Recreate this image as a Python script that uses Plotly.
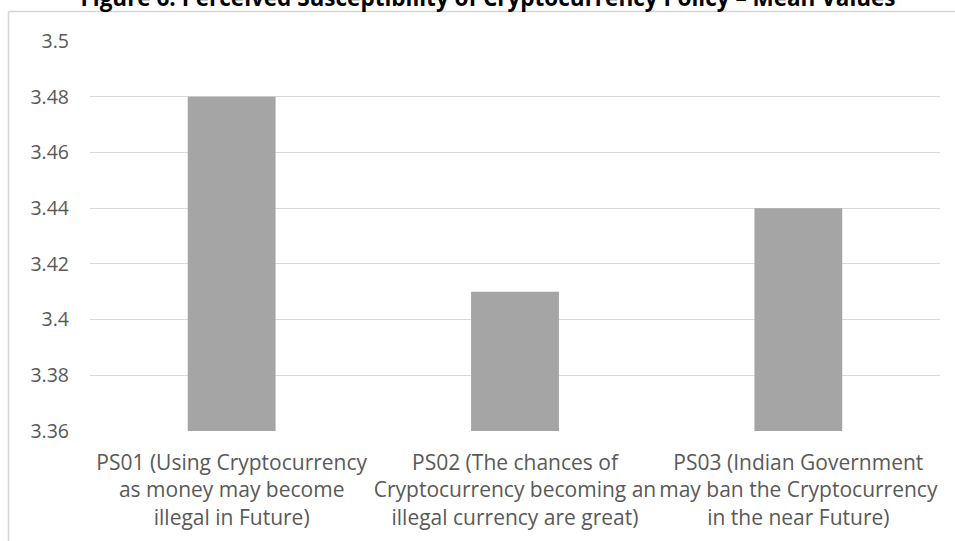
import plotly.graph_objects as go

categories = [
    "PS01 (Using Cryptocurrency<br>as money may become<br>illegal in Future)",
    "PS02 (The chances of<br>Cryptocurrency becoming an<br>illegal currency are great)",
    "PS03 (Indian Government<br>may ban the Cryptocurrency<br>in the near Future)",
]
values = [3.48, 3.41, 3.44]
tick_vals = [3.36, 3.38, 3.40, 3.42, 3.44, 3.46, 3.48, 3.50]
tick_text = ["3.36", "3.38", "3.4", "3.42", "3.44", "3.46", "3.48", "3.5"]
title_text = "Figure 6: Perceived Susceptibility of Cryptocurrency Policy \u2013 Mean Values"

W, H = 955, 541
L, R, T, B = 90, 15, 41, 110
pw, ph = W - L - R, H - T - B

fig = go.Figure(go.Bar(x=categories, y=values, marker_color="#A5A5A5",
                       marker_line_width=0, width=0.31))

bx0 = (8.5 - L) / pw
by1 = (H - B - 11.5) / ph
border = dict(color="#D5D5D5", width=1.5)

fig.update_layout(
    width=W, height=H,
    margin=dict(l=L, r=R, t=T, b=B),
    paper_bgcolor="white", plot_bgcolor="white",
    font=dict(family="Open Sans", color="#595959", size=19),
    title=dict(text="<b>" + title_text + "</b>", x=0.511, xanchor="center",
               y=1 - 6 / H, yanchor="bottom", yref="container",
               font=dict(size=22.5, color="#000000", family="Open Sans")),
    showlegend=False,
    xaxis=dict(showgrid=False, showline=False, ticks="", tickangle=0,
               automargin=False, ticklabelstandoff=17,
               tickfont=dict(size=21, color="#595959")),
    yaxis=dict(range=[3.36, 3.5], tickvals=tick_vals, ticktext=tick_text,
               showgrid=True, gridcolor="#D9D9D9", gridwidth=1,
               zeroline=False, showline=False, ticks="",
               automargin=False,
               ticklabelstandoff=20,
               tickfont=dict(size=19.5, color="#595959")),
    shapes=[
        dict(type="line", xref="paper", yref="paper",
             x0=bx0, x1=bx0, y0=-0.5, y1=by1, line=border, layer="above"),
        dict(type="line", xref="paper", yref="paper",
             x0=bx0, x1=1.05, y0=by1, y1=by1, line=border, layer="above"),
    ],
)

fig.write_html("out.html", config={"displayModeBar": False},
               post_script="document.body.style.margin='0';document.body.style.overflow='hidden';")
